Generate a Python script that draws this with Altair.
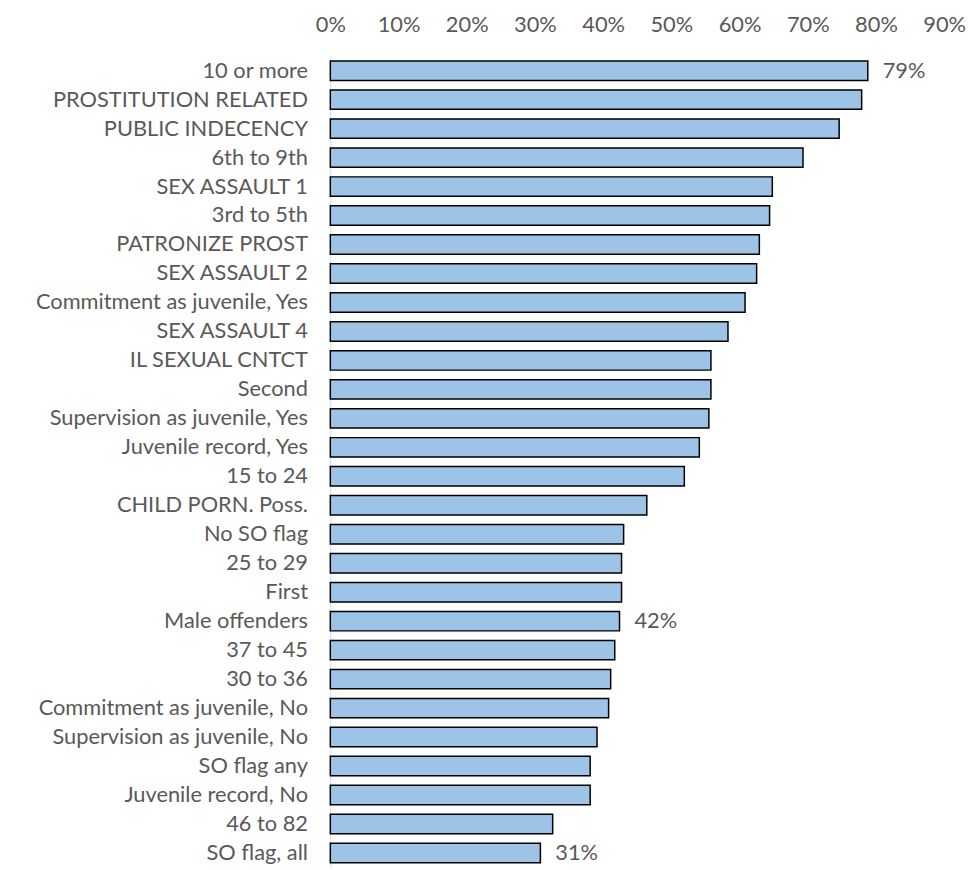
import altair as alt
import pandas as pd

categories = [
    "10 or more",
    "PROSTITUTION RELATED",
    "PUBLIC INDECENCY",
    "6th to 9th",
    "SEX ASSAULT 1",
    "3rd to 5th",
    "PATRONIZE PROST",
    "SEX ASSAULT 2",
    "Commitment as juvenile, Yes",
    "SEX ASSAULT 4",
    "IL SEXUAL CNTCT",
    "Second",
    "Supervision as juvenile, Yes",
    "Juvenile record, Yes",
    "15 to 24",
    "CHILD PORN. Poss.",
    "No SO flag",
    "25 to 29",
    "First",
    "Male offenders",
    "37 to 45",
    "30 to 36",
    "Commitment as juvenile, No",
    "Supervision as juvenile, No",
    "SO flag any",
    "Juvenile record, No",
    "46 to 82",
    "SO flag, all",
]

values = [
    0.788, 0.779, 0.746, 0.693, 0.648, 0.644, 0.629, 0.625, 0.608, 0.583,
    0.558, 0.558, 0.555, 0.541, 0.519, 0.464, 0.430, 0.427, 0.427, 0.424,
    0.417, 0.411, 0.408, 0.391, 0.381, 0.381, 0.326, 0.308,
]

value_labels = [
    "79%", "", "", "", "", "", "", "", "", "",
    "", "", "", "", "", "", "", "", "", "42%",
    "", "", "", "", "", "", "", "31%",
]

tick_values = [0.0, 0.1, 0.2, 0.3, 0.4, 0.5, 0.6, 0.7, 0.8, 0.9]

df = pd.DataFrame({"category": categories, "value": values, "label": value_labels})

FONT = "Lato"
GREY = "#595959"

y_enc = alt.Y(
    "category:N",
    sort=categories,
    title=None,
    scale=alt.Scale(paddingInner=0.33, paddingOuter=0.165),
    axis=alt.Axis(
        labelFont=FONT,
        labelFontSize=22,
        labelColor=GREY,
        labelPadding=23,
        labelLimit=400,
        ticks=False,
        domain=True,
        domainColor="#d9d9d9",
        domainWidth=1,
        grid=False,
    ),
)

x_enc = alt.X(
    "value:Q",
    title=None,
    scale=alt.Scale(domain=[0, 0.9], nice=False, zero=True),
    axis=alt.Axis(
        orient="top",
        values=tick_values,
        format=".0%",
        labelFont=FONT,
        labelFontSize=22,
        labelColor=GREY,
        labelPadding=20,
        ticks=False,
        domain=False,
        grid=False,
        labelFlush=False,
        labelOverlap=False,
    ),
)

bars = alt.Chart(df).mark_bar(
    fill="#9DC3E6", stroke="#000000", strokeWidth=1.5
).encode(x=x_enc, y=y_enc)

text = (
    alt.Chart(df)
    .transform_filter("datum.label != ''")
    .mark_text(align="left", baseline="middle", dx=15, font=FONT, fontSize=22, color=GREY)
    .encode(
        x=alt.X("value:Q"),
        y=alt.Y("category:N", sort=categories),
        text="label:N",
    )
)

chart = (
    (bars + text)
    .properties(
        width=619,
        height=818,
        autosize=alt.AutoSizeParams(type="none"),
        padding={"left": 325, "top": 45, "right": 24, "bottom": 2},
    )
    .configure_view(stroke=None)
)

chart.save("out.html", embed_options={"renderer": "svg", "actions": False})
